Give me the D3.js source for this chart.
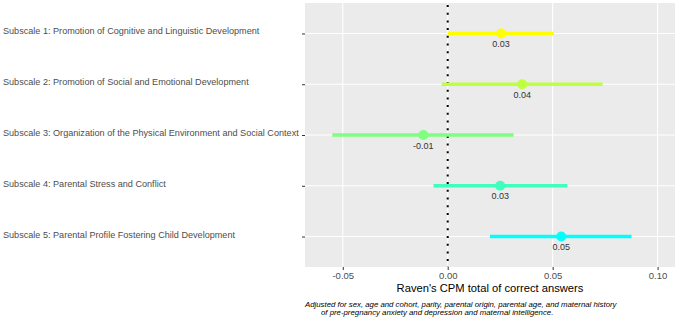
<!DOCTYPE html>
<html>
<head>
<meta charset="utf-8">
<script src="https://cdn.jsdelivr.net/npm/d3@7"></script>
<style>
  body { margin: 0; background: #fff; }
  svg text { font-family: "Liberation Sans", Arial, sans-serif; }
</style>
</head>
<body>
<div id="canvas"></div>
<script>
// DATA
const subscales = [
  "Subscale 1: Promotion of Cognitive and Linguistic Development",
  "Subscale 2: Promotion of Social and Emotional Development",
  "Subscale 3: Organization of the Physical Environment and Social Context",
  "Subscale 4: Parental Stress and Conflict",
  "Subscale 5: Parental Profile Fostering Child Development"
];
const estimates = [0.0254, 0.0355, -0.0116, 0.0250, 0.0541];
const lower = [0.0000, -0.0029, -0.0550, -0.0068, 0.0201];
const upper = [0.0506, 0.0738, 0.0314, 0.0570, 0.0876];
const labels = ["0.03", "0.04", "-0.01", "0.03", "0.05"];
const colors = ["#FFFF00", "#BFFF3F", "#7FFF7F", "#3FFFBF", "#00FFFF"];
const xTicks = [-0.05, 0, 0.05, 0.10];
const xTickLabels = ["-0.05", "0.00", "0.05", "0.10"];

const rows = subscales.map((s, i) => ({
  name: s, est: estimates[i], lo: lower[i], hi: upper[i], label: labels[i], color: colors[i]
}));

// DIMENSIONS
const width = 676;
const height = 319;
const panel = { left: 305, right: 675, top: 3, bottom: 267 };

const canvas = d3.select("#canvas")
  .append("svg")
  .attr("width", width)
  .attr("height", height);

// SCALES
const x = d3.scaleLinear().domain([-0.068, 0.1083]).range([panel.left, panel.right]);
const y = d3.scalePoint().domain(subscales).range([panel.top, panel.bottom]).padding(0.6);

// PANEL
canvas.append("rect")
  .attr("x", panel.left).attr("y", panel.top)
  .attr("width", panel.right - panel.left).attr("height", panel.bottom - panel.top)
  .attr("fill", "#EBEBEB");

// GRID
canvas.selectAll(".vgrid")
  .data(xTicks)
  .join("line")
  .attr("x1", d => x(d)).attr("x2", d => x(d))
  .attr("y1", panel.top).attr("y2", panel.bottom)
  .attr("stroke", "#fff").attr("stroke-width", 1.1);

canvas.selectAll(".hgrid")
  .data(subscales)
  .join("line")
  .attr("x1", panel.left).attr("x2", panel.right)
  .attr("y1", d => y(d)).attr("y2", d => y(d))
  .attr("stroke", "#fff").attr("stroke-width", 1.1);

// ZERO LINE
canvas.append("line")
  .attr("x1", x(0)).attr("x2", x(0))
  .attr("y1", panel.top + 2).attr("y2", panel.bottom)
  .attr("stroke", "#000").attr("stroke-width", 2)
  .attr("stroke-dasharray", "2,5.7");

// AXES
const xAxis = canvas.append("g")
  .attr("transform", `translate(0,${panel.bottom})`)
  .call(d3.axisBottom(x).tickValues(xTicks).tickFormat((d, i) => xTickLabels[i]).tickSize(3).tickPadding(2));
xAxis.select(".domain").remove();
xAxis.selectAll("line").attr("stroke", "#333");
xAxis.selectAll("text").attr("fill", "#4D4D4D").style("font-size", "9.5px");

const yAxis = canvas.append("g")
  .attr("transform", `translate(${panel.left},0)`)
  .call(d3.axisLeft(y).tickSize(3).tickPadding(0));
yAxis.select(".domain").remove();
yAxis.selectAll("line").attr("stroke", "#333");
yAxis.selectAll("text")
  .attr("text-anchor", "start")
  .attr("x", 3 - panel.left)
  .attr("dy", "0.05em")
  .attr("fill", "#4D4D4D")
  .style("font-size", "9.1px");

// ERROR BARS
const plot = canvas.append("g");
plot.selectAll(".bar")
  .data(rows)
  .join("line")
  .attr("x1", d => x(d.lo)).attr("x2", d => x(d.hi))
  .attr("y1", d => y(d.name)).attr("y2", d => y(d.name))
  .attr("stroke", d => d.color).attr("stroke-width", 3.5);

plot.selectAll("circle")
  .data(rows)
  .join("circle")
  .attr("cx", d => x(d.est)).attr("cy", d => y(d.name))
  .attr("r", 5)
  .attr("fill", d => d.color);

plot.selectAll(".val")
  .data(rows)
  .join("text")
  .attr("x", d => x(d.est)).attr("y", d => y(d.name) + 13.5)
  .attr("text-anchor", "middle")
  .attr("fill", "#333")
  .style("font-size", "9px")
  .text(d => d.label);

// TITLE AND CAPTION
canvas.append("text")
  .attr("x", (panel.left + panel.right) / 2).attr("y", 291.5)
  .attr("text-anchor", "middle")
  .attr("fill", "#000")
  .style("font-size", "11.2px")
  .text("Raven's CPM total of correct answers");

canvas.append("text")
  .attr("x", 305).attr("y", 306.5)
  .style("font-size", "7.8px").style("font-style", "italic")
  .attr("fill", "#000")
  .text("Adjusted for sex, age and cohort, parity, parental origin, parental age, and maternal history");

canvas.append("text")
  .attr("x", 321).attr("y", 315)
  .style("font-size", "7.8px").style("font-style", "italic")
  .attr("fill", "#000")
  .text("of pre-pregnancy anxiety and depression and maternal intelligence.");
</script>
</body>
</html>
